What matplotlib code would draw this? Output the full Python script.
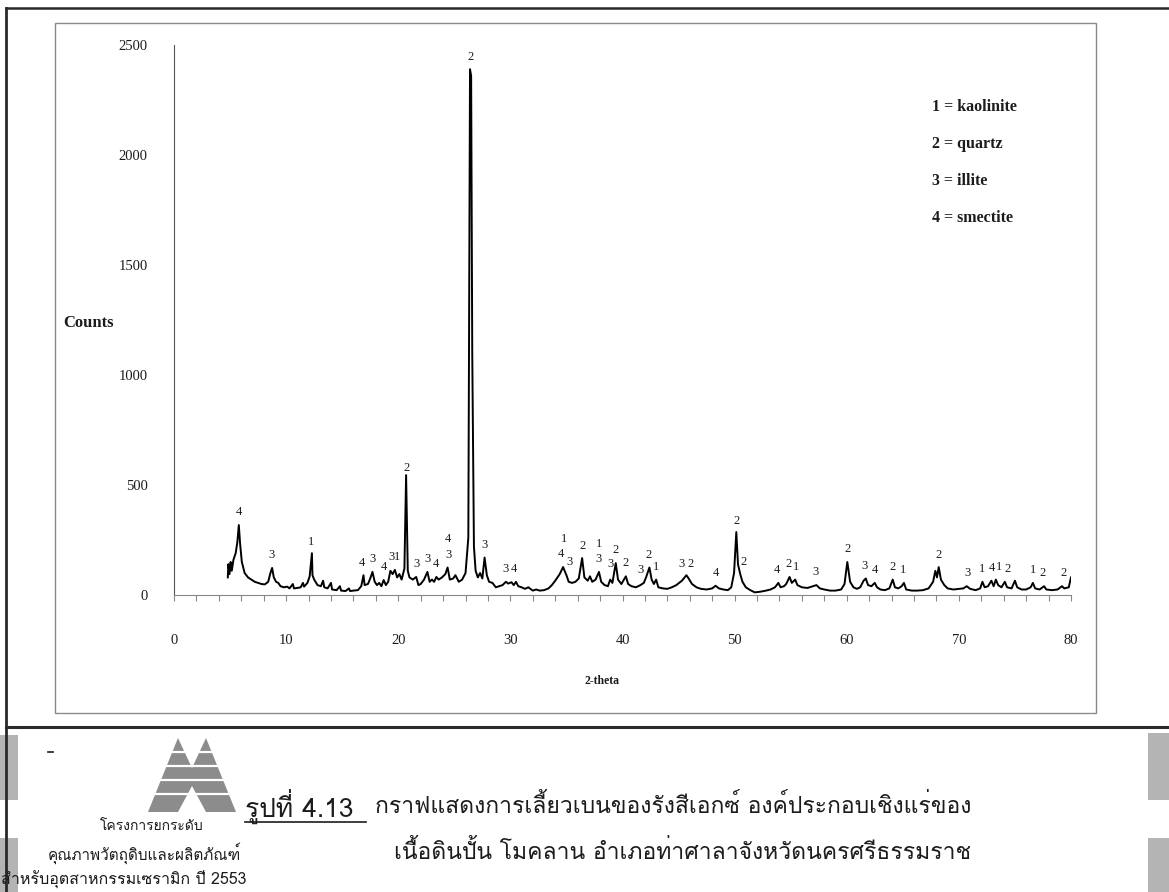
import numpy as np
import matplotlib
matplotlib.use("Agg")
import matplotlib.pyplot as plt
from matplotlib import font_manager
from matplotlib.ft2font import FT2Font
from matplotlib.patches import Polygon, Rectangle

# ---- diffraction trace (2-theta in degrees, intensity in counts) ----
two_theta = [
    4.8, 4.85, 4.95, 5.05, 5.15, 5.3, 5.5, 5.65, 5.78, 5.9, 6.05, 6.3, 6.6, 6.9, 7.2, 7.5,
    7.8, 8.1, 8.4, 8.6, 8.75, 8.9, 9.1, 9.3, 9.5, 9.8, 10.1, 10.3, 10.6, 10.7, 11.0, 11.3,
    11.5, 11.6, 11.9, 12.1, 12.3, 12.35, 12.5, 12.8, 13.1, 13.3, 13.4, 13.7, 14.0, 14.1,
    14.5, 14.8, 14.9, 15.3, 15.6, 15.7, 16.0, 16.4, 16.7, 16.9, 17.0, 17.3, 17.5, 17.7,
    17.9, 18.1, 18.3, 18.5, 18.7, 18.9, 19.1, 19.3, 19.5, 19.7, 19.9, 20.1, 20.3, 20.55,
    20.7, 20.85, 21.0, 21.3, 21.6, 21.8, 22.0, 22.3, 22.6, 22.8, 23.0, 23.2, 23.4, 23.6,
    23.9, 24.2, 24.4, 24.6, 24.9, 25.1, 25.4, 25.7, 26.0, 26.25, 26.4, 26.5, 26.6, 26.75,
    26.9, 27.1, 27.3, 27.5, 27.7, 27.9, 28.1, 28.4, 28.7, 29.0, 29.3, 29.6, 29.8, 30.1,
    30.3, 30.5, 30.7, 31.0, 31.3, 31.6, 32.0, 32.3, 32.6, 33.0, 33.4, 33.7, 34.0, 34.4,
    34.7, 35.0, 35.2, 35.5, 35.8, 36.1, 36.4, 36.6, 36.9, 37.1, 37.3, 37.6, 37.9, 38.1,
    38.4, 38.7, 38.9, 39.1, 39.4, 39.6, 39.9, 40.3, 40.5, 40.8, 41.2, 41.6, 41.9, 42.1,
    42.4, 42.6, 42.8, 43.0, 43.2, 43.6, 44.0, 44.4, 44.8, 45.3, 45.7, 45.9, 46.2, 46.6,
    47.0, 47.5, 48.0, 48.3, 48.6, 49.0, 49.4, 49.7, 49.95, 50.15, 50.3, 50.5, 50.7, 51.0,
    51.4, 51.8, 52.3, 52.8, 53.2, 53.6, 53.9, 54.1, 54.4, 54.6, 54.9, 55.1, 55.4, 55.6,
    56.0, 56.5, 57.0, 57.3, 57.6, 58.0, 58.5, 59.0, 59.5, 59.8, 60.05, 60.3, 60.6, 60.9,
    61.2, 61.5, 61.7, 61.9, 62.2, 62.5, 62.7, 63.0, 63.4, 63.8, 64.1, 64.3, 64.6, 64.9,
    65.1, 65.3, 65.8, 66.3, 66.8, 67.3, 67.7, 67.9, 68.05, 68.2, 68.4, 68.7, 69.0, 69.5,
    70.0, 70.4, 70.7, 71.0, 71.5, 71.9, 72.1, 72.3, 72.6, 72.9, 73.1, 73.3, 73.5, 73.8,
    74.1, 74.3, 74.7, 75.0, 75.2, 75.6, 76.0, 76.4, 76.6, 76.8, 77.2, 77.6, 77.8, 78.3,
    78.8, 79.2, 79.4, 79.8, 80.0,
]
counts = [
    80, 140, 95, 150, 110, 160, 190, 240, 318, 230, 150, 100, 80, 70, 60, 55,
    50, 48, 60, 100, 123, 80, 60, 55, 40, 35, 38, 30, 50, 30, 32, 35,
    55, 38, 55, 85, 190, 90, 70, 45, 40, 65, 35, 30, 55, 25,
    22, 40, 20, 18, 30, 18, 20, 22, 40, 90, 45, 50, 75, 105,
    60, 45, 55, 40, 68, 45, 60, 110, 95, 114, 80, 95, 70, 120,
    545, 110, 80, 70, 82, 45, 50, 70, 105, 60, 70, 60, 82, 70,
    80, 95, 125, 70, 75, 90, 60, 70, 100, 260, 2390, 2360, 1100, 220,
    110, 80, 100, 75, 170, 90, 60, 55, 35, 40, 45, 60, 52, 58,
    45, 60, 40, 35, 28, 35, 20, 25, 20, 22, 30, 45, 65, 95,
    127, 90, 60, 55, 60, 75, 168, 80, 65, 85, 60, 70, 105, 60,
    45, 40, 70, 55, 145, 70, 50, 85, 50, 40, 35, 45, 55, 80,
    125, 70, 50, 70, 35, 30, 28, 35, 45, 65, 90, 75, 50, 35,
    28, 25, 30, 42, 30, 25, 22, 35, 100, 286, 140, 95, 60, 35,
    22, 12, 15, 20, 25, 35, 55, 35, 40, 50, 82, 55, 70, 45,
    35, 32, 40, 45, 30, 25, 20, 20, 25, 50, 150, 60, 35, 28,
    35, 65, 75, 45, 40, 55, 35, 25, 22, 30, 70, 35, 30, 40,
    55, 25, 20, 20, 22, 30, 60, 110, 80, 127, 70, 45, 30, 25,
    28, 30, 40, 28, 22, 30, 60, 35, 40, 65, 40, 70, 45, 35,
    60, 35, 30, 65, 35, 25, 25, 35, 55, 30, 25, 40, 25, 22,
    25, 40, 30, 35, 80,
]

# ---- phase identification marks: position, phase number, stacking level ----
peak_pos = [5.8, 8.7, 12.2, 16.8, 17.7, 18.7, 19.4, 19.9, 20.7, 21.6, 22.6, 23.4,
            24.45, 24.45, 26.45, 27.7, 29.6, 30.3, 34.5, 34.8, 35.3, 36.4, 37.9, 37.9,
            38.9, 39.4, 40.3, 41.6, 42.3, 43.0, 45.3, 46.1, 48.3, 50.2, 50.8, 53.8,
            54.8, 55.5, 57.2, 60.1, 61.6, 62.5, 64.1, 65.0, 68.2, 70.8, 72.1, 72.9,
            73.6, 74.3, 76.6, 77.5, 79.3]
peak_ids = ["4", "3", "1", "4", "3", "4", "3", "1", "2", "3", "3", "4",
            "3", "4", "2", "3", "3", "4", "4", "1", "3", "2", "3", "1",
            "3", "2", "2", "3", "2", "1", "3", "2", "4", "2", "2", "4",
            "2", "1", "3", "2", "3", "4", "2", "1", "2", "3", "1", "4",
            "1", "2", "1", "2", "2"]
peak_level = [0, 0, 0, 0, 0, 0, 0, 0, 0, 0, 0, 0,
              0, 1, 0, 0, 0, 0, 0, 1, 0, 0, 0, 1,
              0, 0, 0, 0, 0, 0, 0, 0, 0, 0, 0, 0,
              0, 0, 0, 0, 0, 0, 0, 0, 0, 0, 0, 0,
              0, 0, 0, 0, 0]

phase_numbers = ["1", "2", "3", "4"]
phase_names = ["kaolinite", "quartz", "illite", "smectite"]

x_major = [0, 10, 20, 30, 40, 50, 60, 70, 80]
x_minor = list(range(0, 81, 2))
y_major = [0, 500, 1000, 1500, 2000, 2500]

caption_head = "รูปที่ 4.13"
caption_line1 = "กราฟแสดงการเลี้ยวเบนของรังสีเอกซ์ องค์ประกอบเชิงแร่ของ"
caption_line2 = "เนื้อดินปั้น โมคลาน อำเภอท่าศาลาจังหวัดนครศรีธรรมราช"
project_lines = ["โครงการยกระดับ", "คุณภาพวัตถุดิบและผลิตภัณฑ์", "สำหรับอุตสาหกรรมเซรามิก ปี 2553"]


def find_thai_family():
    for entry in font_manager.fontManager.ttflist:
        try:
            if 0x0E01 in FT2Font(entry.fname).get_charmap():
                return entry.name
        except Exception:
            continue
    return "DejaVu Sans"


THAI = [find_thai_family(), "DejaVu Sans"]
SERIF = ["Liberation Serif", "DejaVu Serif"]
INK = "#1c1c1c"

W, H = 1169, 892
fig = plt.figure(figsize=(W / 100, H / 100), dpi=100)
fig.patch.set_facecolor("white")

# page furniture drawn in pixel coordinates
page = fig.add_axes([0, 0, 1, 1], zorder=0)
page.set_xlim(0, W)
page.set_ylim(H, 0)
page.axis("off")

page.plot([6, 6], [8, H], color="#2a2a2a", lw=2.0)
page.plot([6, W], [8, 8], color="#2a2a2a", lw=1.8)
page.plot([6, W], [727, 727], color="#2a2a2a", lw=2.2)
page.add_patch(Rectangle((55, 23), 1041, 690, fill=False, ec="#8a8a8a", lw=1.0))
for (x0, y0, w, h) in [(0, 735, 18, 65), (0, 838, 18, 54), (1148, 733, 21, 67), (1148, 838, 21, 54)]:
    page.add_patch(Rectangle((x0, y0), w, h, color="#b4b4b4", lw=0))
page.plot([48, 53], [752, 752], color=INK, lw=1.2)

# project logo: banded twin-peak mountain
page.add_patch(Polygon([(148, 812), (178, 738), (192, 768), (206, 738), (236, 812)],
                       closed=True, color="#8c8c8c", lw=0))
for yb in (752, 766, 780, 794):
    page.plot([140, 245], [yb, yb], color="white", lw=1.6)
page.add_patch(Polygon([(178, 812), (192, 786), (206, 812)], closed=True, color="white", lw=0))

page.text(152, 826, project_lines[0], ha="center", va="center", fontsize=10, color=INK, family=THAI)
page.text(144, 853, project_lines[1], ha="center", va="center", fontsize=11, color=INK, family=THAI)
page.text(124, 880, project_lines[2], ha="center", va="center", fontsize=11.5, color=INK, family=THAI)

page.text(245, 806, caption_head, ha="left", va="center", fontsize=19, color=INK, family=THAI)
page.plot([245, 366], [822, 822], color=INK, lw=1.2)
page.text(375, 806, caption_line1, ha="left", va="center", fontsize=16.5, color=INK, family=THAI)
page.text(682, 852, caption_line2, ha="center", va="center", fontsize=16.5, color=INK, family=THAI)

# diffraction pattern
ax = fig.add_axes([174 / W, 1 - 595 / H, (1071 - 174) / W, (595 - 45) / H], zorder=1)
ax.set_facecolor("none")
ax.plot(two_theta, counts, color="black", lw=1.4, solid_joinstyle="round")
ax.set_xlim(0, 80)
ax.set_ylim(0, 2500)
for side in ("top", "right"):
    ax.spines[side].set_visible(False)
ax.spines["left"].set_color("#555555")
ax.spines["bottom"].set_color("#888888")
ax.set_xticks(x_major)
ax.set_xticks(x_minor, minor=True)
ax.set_yticks(y_major)
ax.tick_params(axis="x", which="both", direction="out", length=4, width=0.8, color="#888888",
               pad=24, labelsize=10.5)
ax.tick_params(axis="y", length=0, pad=19, labelsize=10.5)
for lab in ax.get_xticklabels() + ax.get_yticklabels():
    lab.set_family(SERIF)
    lab.set_color(INK)

ax.text(-0.123, 0.495, "Counts", transform=ax.transAxes, ha="left", va="center",
        fontsize=12, fontweight="bold", family=SERIF, color=INK)
ax.text(0.477, -0.157, "2-theta", transform=ax.transAxes, ha="center", va="center",
        fontsize=8.5, fontweight="bold", family=SERIF, color=INK)

# phase marks above peaks
fine_x = np.linspace(4.8, 80, 4000)
fine_y = np.interp(fine_x, two_theta, counts)
for pos, pid, lvl in zip(peak_pos, peak_ids, peak_level):
    sel = np.abs(fine_x - pos) <= 0.3
    top = fine_y[sel].max()
    ax.annotate(pid, (pos, top), xytext=(0, 5 + 11 * lvl), textcoords="offset points",
                ha="center", va="bottom", fontsize=9, family=SERIF, color=INK)

# legend of phases
for i, (num, name) in enumerate(zip(phase_numbers, phase_names)):
    page.text(932, 107 + i * 37, f"{num} = {name}", ha="left", va="center",
              fontsize=11.5, fontweight="bold", family=SERIF, color=INK)

fig.savefig("out.png", dpi=100)
